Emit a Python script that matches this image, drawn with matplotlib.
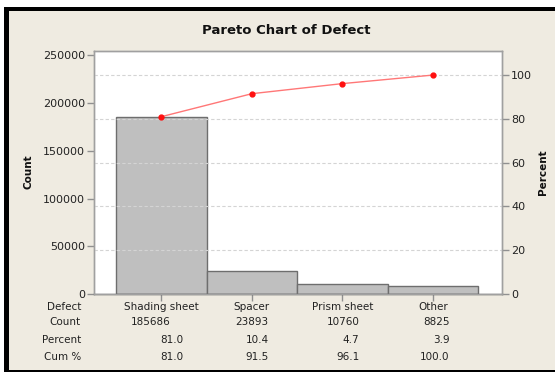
import matplotlib.pyplot as plt
from matplotlib.patches import Rectangle

defects = ["Shading sheet", "Spacer", "Prism sheet", "Other"]
counts = [185686, 23893, 10760, 8825]
percents = [81.0, 10.4, 4.7, 3.9]
cum_pct = [81.0, 91.5, 96.1, 100.0]

count_ticks = [0, 50000, 100000, 150000, 200000, 250000]
pct_ticks = [0, 20, 40, 60, 80, 100]

plt.rcParams['font.family'] = ['DejaVu Sans']
bg = "#efebe1"

fig = plt.figure(figsize=(5.55, 3.72), dpi=100, facecolor="white")
# beige panel with black frame (top, left, bottom)
fig.patches.append(Rectangle((9 / 555, 2 / 372), 546 / 555, 359 / 372,
                             transform=fig.transFigure, facecolor=bg, edgecolor="none", zorder=-10))
fig.patches.append(Rectangle((4 / 555, 361 / 372), 551 / 555, 4 / 372,
                             transform=fig.transFigure, facecolor="black", zorder=-9))
fig.patches.append(Rectangle((4 / 555, 0), 5 / 555, 365 / 372,
                             transform=fig.transFigure, facecolor="black", zorder=-9))
fig.patches.append(Rectangle((4 / 555, 0), 551 / 555, 2 / 372,
                             transform=fig.transFigure, facecolor="black", zorder=-9))

ax = fig.add_axes([94 / 555, 1 - 294 / 372, 408 / 555, 243 / 372])
ax.set_facecolor("white")
x = range(len(defects))
ax.bar(x, counts, width=1.0, color="#bfbfbf", edgecolor="#6e6e6e", linewidth=1.0, zorder=2)
ax.set_xlim(-0.745, 3.765)
ax.set_ylim(0, 254500)
ax.set_yticks(count_ticks)
ax.set_yticklabels([str(t) for t in count_ticks])
ax.set_xticks(list(x))
ax.set_xticklabels([])

ax2 = ax.twinx()
ax2.set_ylim(0, 111)
ax2.set_yticks(pct_ticks)
for t in pct_ticks[1:]:
    ax2.axhline(t, color="#d4d4d4", linestyle=(0, (3, 2)), linewidth=0.8, zorder=0)
ax2.plot(x, cum_pct, color="#ff7777", linewidth=1.0, marker="o", markersize=3.5,
         markerfacecolor="#ff1010", markeredgecolor="#ff1010", zorder=3)
ax.set_zorder(1)
ax2.set_zorder(2)
ax2.patch.set_visible(False)

for a in (ax, ax2):
    for s in a.spines.values():
        s.set_color("#a0a0a0")
        s.set_linewidth(1.0)
    a.tick_params(colors="#909090", labelcolor="#222222", labelsize=8, length=5, width=1.0, pad=1.5)
ax.spines['bottom'].set_color("#505050")

fig.text(286 / 555, 1 - 31 / 372, "Pareto Chart of Defect", ha="center", va="center",
         fontsize=9.5, fontweight="bold", color="#111111")
fig.text(28 / 555, 1 - 172 / 372, "Count", rotation=90, ha="center", va="center",
         fontsize=7.5, fontweight="bold", color="#111111")
fig.text(543 / 555, 1 - 172 / 372, "Percent", rotation=90, ha="center", va="center",
         fontsize=7.5, fontweight="bold", color="#111111")

# table under the chart
row_y = [307, 322, 340, 357]
row_names = ["Defect", "Count", "Percent", "Cum %"]
tf = dict(fontsize=7.5, color="#222222", va="center")
for name, yy in zip(row_names, row_y):
    fig.text(81 / 555, 1 - yy / 372, name, ha="right", **tf)
for i in range(len(defects)):
    cx = ax.transData.transform((i, 0))[0] / fig.dpi / 5.55
    off = 17 / 555
    fig.text(cx, 1 - row_y[0] / 372, defects[i], ha="center", **tf)
    fig.text(cx + (9 / 555 if i == 0 else off), 1 - row_y[1] / 372, str(counts[i]), ha="right", **tf)
    fig.text(cx + (22 / 555 if i == 0 else off), 1 - row_y[2] / 372, "%.1f" % percents[i], ha="right", **tf)
    fig.text(cx + (22 / 555 if i == 0 else off), 1 - row_y[3] / 372, "%.1f" % cum_pct[i], ha="right", **tf)

fig.savefig("out.png", dpi=100, facecolor=fig.get_facecolor())
